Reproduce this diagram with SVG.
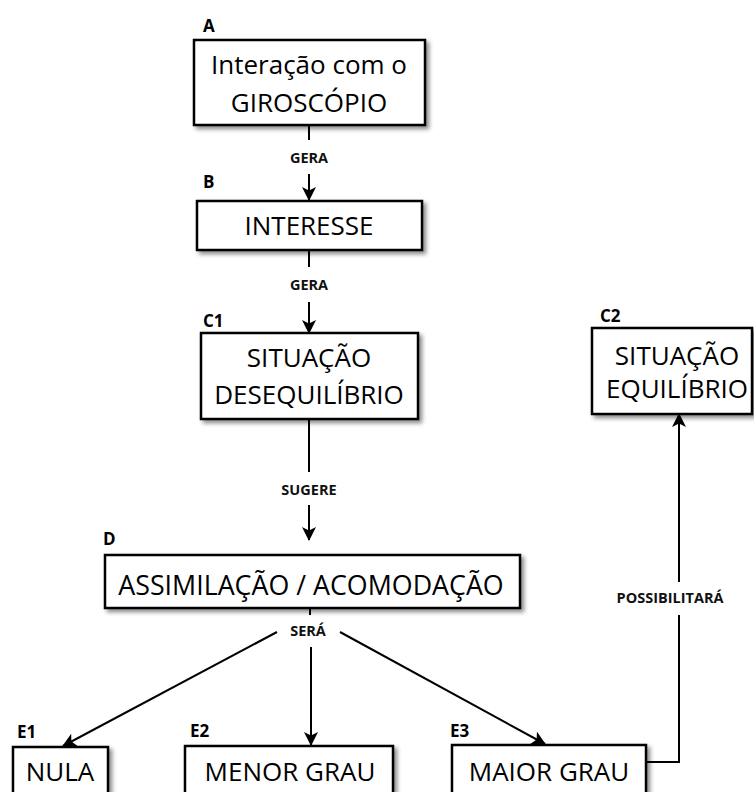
<svg xmlns="http://www.w3.org/2000/svg" width="754" height="792" viewBox="0 0 754 792">
<style>
.box{fill:#fff;stroke:#000;stroke-width:2.5;filter:url(#sh)}
.t{font-family:"Open Sans","DejaVu Sans",sans-serif;font-size:26px;fill:#000;text-anchor:middle}
.id{font-family:"Open Sans","DejaVu Sans",sans-serif;font-size:17px;font-weight:bold;fill:#000}
.lb{font-family:"Open Sans","DejaVu Sans",sans-serif;font-size:14.5px;font-weight:bold;fill:#111;text-anchor:middle}
.c{fill:none;stroke:#000;stroke-width:2}
.a{marker-end:url(#ah)}
</style>
<defs>
<filter id="sh" x="-10%" y="-10%" width="130%" height="140%">
<feDropShadow dx="3" dy="3" stdDeviation="2" flood-color="#000" flood-opacity="0.45"/>
</filter>
<marker id="ah" viewBox="0 0 14 14" refX="13" refY="7" markerWidth="14" markerHeight="14" markerUnits="userSpaceOnUse" orient="auto">
<path d="M0,0 L14,7 L0,14 L3.5,7 z" fill="#000"/>
</marker>
</defs>

<g id="connectors">
<line class="c" x1="309" y1="125" x2="309" y2="140"/>
<line class="c a" x1="309" y1="174" x2="309" y2="200"/>
<line class="c" x1="309" y1="250" x2="309" y2="267"/>
<line class="c a" x1="309" y1="302" x2="309" y2="333"/>
<line class="c" x1="309" y1="419" x2="309" y2="472"/>
<line class="c a" x1="309" y1="505" x2="309" y2="540"/>
<line class="c" x1="310" y1="608" x2="310" y2="615"/>
<line class="c a" x1="277" y1="632" x2="63" y2="746"/>
<line class="c a" x1="311" y1="647" x2="311" y2="745"/>
<line class="c a" x1="340" y1="632" x2="545" y2="744"/>
<polyline class="c" points="647,762 679,762 679,615"/>
<line class="c a" x1="679" y1="582" x2="679" y2="414"/>
<text class="lb" x="309" y="163">GERA</text>
<text class="lb" x="309" y="290">GERA</text>
<text class="lb" x="309" y="495">SUGERE</text>
<text class="lb" x="308" y="636">SERÁ</text>
<text class="lb" x="670" y="603">POSSIBILITARÁ</text>
</g>

<g id="A">
<rect class="box" x="194" y="40" width="231" height="85"/>
<text class="id" x="203" y="32">A</text>
<text class="t" x="309" y="74">Interação com o</text>
<text class="t" x="309" y="112">GIROSCÓPIO</text>
</g>

<g id="B">
<rect class="box" x="197" y="201" width="225" height="49"/>
<text class="id" x="203" y="188">B</text>
<text class="t" x="309" y="235">INTERESSE</text>
</g>

<g id="C1">
<rect class="box" x="201" y="333" width="217" height="86"/>
<text class="id" x="203" y="327">C1</text>
<text class="t" x="309" y="367">SITUAÇÃO</text>
<text class="t" x="309" y="404">DESEQUILÍBRIO</text>
</g>

<g id="C2">
<rect class="box" x="592" y="328" width="160" height="86"/>
<text class="id" x="600" y="322">C2</text>
<text class="t" x="677" y="365">SITUAÇÃO</text>
<text class="t" x="677" y="398">EQUILÍBRIO</text>
</g>

<g id="D">
<rect class="box" x="105" y="555" width="415" height="53"/>
<text class="id" x="103" y="545">D</text>
<text class="t" x="311" y="595" style="font-size:26.8px">ASSIMILAÇÃO / ACOMODAÇÃO</text>
</g>

<g id="E1">
<rect class="box" x="13" y="747" width="95" height="60"/>
<text class="id" x="17" y="738">E1</text>
<text class="t" x="60" y="781">NULA</text>
</g>

<g id="E2">
<rect class="box" x="185" y="746" width="208" height="60"/>
<text class="id" x="190" y="737">E2</text>
<text class="t" x="290" y="781">MENOR GRAU</text>
</g>

<g id="E3">
<rect class="box" x="452" y="745" width="194" height="60"/>
<text class="id" x="450" y="737">E3</text>
<text class="t" x="549" y="781">MAIOR GRAU</text>
</g>
</svg>
